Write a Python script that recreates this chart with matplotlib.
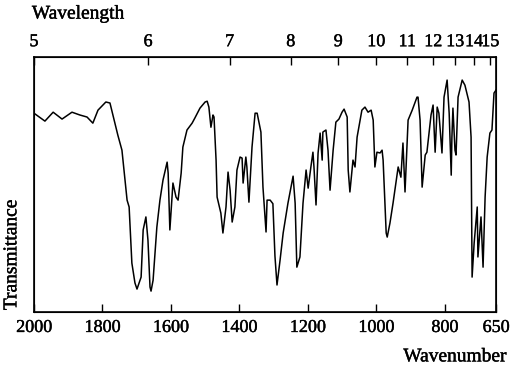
import matplotlib.pyplot as plt
import matplotlib.patheffects as pe

plt.rcParams['font.family'] = ['Liberation Serif', 'DejaVu Serif']

# spectrum: wavenumber (cm-1) and transmittance (arbitrary %)
wavenumber = [2000, 1968, 1944, 1918, 1889, 1866, 1845, 1828, 1813, 1790, 1778,
              1755, 1743, 1728, 1722, 1714, 1705, 1699, 1687, 1681, 1673, 1667,
              1661, 1658, 1652, 1641, 1632, 1623, 1611, 1608, 1603, 1594, 1585,
              1579, 1570, 1565, 1553, 1538, 1530, 1515, 1500, 1494, 1489, 1483,
              1477, 1474, 1468, 1465, 1454, 1448, 1439, 1433, 1427, 1421, 1413,
              1407, 1398, 1392, 1389, 1381, 1378, 1372, 1363, 1354, 1348, 1337,
              1331, 1322, 1319, 1310, 1302, 1296, 1290, 1281, 1272, 1258, 1243,
              1237, 1232, 1223, 1214, 1205, 1199, 1191, 1185, 1182, 1176, 1170,
              1164, 1158, 1156, 1147, 1141, 1135, 1126, 1118, 1109, 1100, 1094,
              1085, 1082, 1077, 1068, 1062, 1056, 1047, 1042, 1033, 1024, 1015,
              1009, 1004, 998, 989, 983, 980, 971, 968, 960, 951, 936, 928, 922,
              916, 907, 895, 881, 878, 872, 866, 857, 852, 840, 834, 828, 822,
              817, 808, 802, 793, 787, 781, 779, 776, 770, 767, 761, 749, 741,
              729, 723, 720, 714, 705, 703, 694, 688, 682, 676, 668, 662, 656, 650]
transmittance = [78.0, 74.9, 78.4, 75.7, 78.4, 77.3, 76.5, 74.1, 79.2, 82.4, 82.0,
                 69.4, 63.5, 43.9, 41.2, 19.2, 11.4, 9.0, 13.7, 32.2, 37.3, 28.2,
                 9.8, 8.2, 12.5, 33.3, 43.9, 51.8, 58.8, 54.5, 32.2, 50.6, 45.1,
                 43.9, 54.5, 64.7, 71.4, 74.1, 76.1, 80.0, 82.4, 82.7, 80.4, 72.5,
                 77.3, 76.5, 59.6, 45.1, 38.8, 31.0, 41.2, 54.9, 47.8, 35.3, 41.2,
                 55.7, 60.8, 60.4, 50.6, 60.8, 56.9, 43.1, 64.7, 78.0, 78.0, 70.6,
                 49.0, 31.4, 43.9, 43.9, 42.5, 22.0, 10.6, 20.4, 31.0, 42.7, 53.3,
                 42.7, 17.6, 21.6, 42.7, 55.7, 48.6, 56.9, 62.7, 56.9, 42.0, 62.4,
                 70.2, 59.6, 70.6, 71.4, 63.5, 47.8, 63.5, 74.5, 75.7, 78.4, 79.6,
                 76.5, 55.7, 47.1, 59.6, 56.9, 68.6, 75.3, 79.2, 80.4, 78.4, 79.2,
                 75.3, 56.9, 62.7, 62.4, 63.5, 59.6, 31.0, 29.4, 34.9, 42.7, 56.9,
                 52.9, 66.3, 47.1, 75.3, 79.2, 84.3, 84.3, 75.3, 49.0, 61.6, 62.7,
                 77.3, 81.2, 62.7, 80.4, 78.0, 62.4, 84.3, 91.0, 78.0, 53.7, 68.6,
                 80.0, 63.5, 61.6, 84.3, 91.0, 89.0, 82.4, 68.6, 13.7, 27.1, 41.2,
                 21.6, 37.3, 17.6, 45.1, 60.8, 70.2, 71.4, 85.9, 87.1]

wn_ticks = [2000, 1800, 1600, 1400, 1200, 1000, 800, 650]
wl_ticks = [5, 6, 7, 8, 9, 10, 11, 12, 13, 14, 15]

# slightly heavier glyphs, like the printed original
heavy = [pe.withStroke(linewidth=0.3, foreground='black')]

fig = plt.figure(figsize=(5.14, 3.71), dpi=100)
ax = fig.add_axes([0.0661, 0.159, 0.899, 0.687])
ax.plot(wavenumber, transmittance, color='black', lw=1.1)
ax.set_xlim(2000, 650)
ax.set_ylim(0, 100)
ax.set_yticks([])
ax.set_xticks(wn_ticks)
ax.set_xticklabels([str(t) for t in wn_ticks])
ax.tick_params(axis='x', direction='in', length=5.8, width=1.0, pad=5, labelsize=13)
for s in ax.spines.values():
    s.set_linewidth(1.2)

# wavelength scale on top (micrometres)
ax2 = ax.twiny()
ax2.set_xlim(ax.get_xlim())
ax2.set_xticks([10000 / w for w in wl_ticks])
ax2.set_xticklabels([str(w) for w in wl_ticks])
ax2.tick_params(axis='x', direction='in', length=5.8, width=1.0, pad=5, labelsize=13)

for lab in ax.get_xticklabels() + ax2.get_xticklabels():
    lab.set_path_effects(heavy)

fig.text(0.062, 0.962, 'Wavelength', fontsize=14, ha='left', va='center', path_effects=heavy)
fig.text(0.986, 0.038, 'Wavenumber', fontsize=14, ha='right', va='center', path_effects=heavy)
fig.text(0.023, 0.164, 'Transmittance', fontsize=14, rotation=90, ha='center', va='bottom',
         path_effects=heavy)

fig.savefig('out.png', dpi=100)
